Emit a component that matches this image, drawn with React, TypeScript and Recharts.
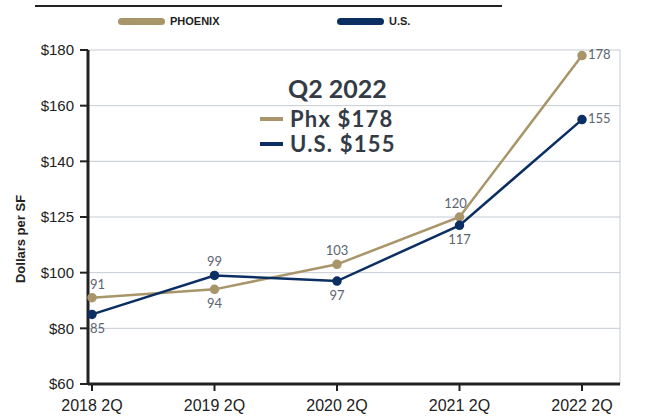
import { LineChart, Line, XAxis, YAxis, CartesianGrid, LabelList } from "recharts"

const quarters = ["2018 2Q", "2019 2Q", "2020 2Q", "2021 2Q", "2022 2Q"]
const phoenix = [91, 94, 103, 120, 178]
const us = [85, 99, 97, 117, 155]
const yTicks = [60, 80, 100, 120, 140, 160, 180]
const yTickLabels = ["$60", "$80", "$100", "$125", "$140", "$160", "$180"]

const PHX = "#a8956a"
const USC = "#0b2f63"

const series = [
  { key: "phoenix", name: "PHOENIX", short: "Phx", color: PHX, values: phoenix, other: us },
  { key: "us", name: "U.S.", short: "U.S.", color: USC, values: us, other: phoenix },
]

const data = quarters.map((q, i) => ({ quarter: q, phoenix: phoenix[i], us: us[i] }))

const makeLabel = (own: number[], other: number[]) => (props: any) => {
  const { x, y, index } = props
  const last = index === own.length - 1
  const above = own[index] > other[index]
  let tx = x
  let ty = above ? y - 9 : y + 19
  let anchor = "middle"
  if (last) {
    tx = x + 6
    ty = y + 3
    anchor = "start"
  } else if (index === 0) {
    tx = x - 2
    anchor = "start"
  } else if (index === 3 && above) {
    tx = x - 4
  }
  return (
    <text x={tx} y={ty} textAnchor={anchor} fontSize={13} fill="#5b6471" fontFamily="Lato">
      {own[index]}
    </text>
  )
}

const legendLeft = [118, 337]

export default function App() {
  return (
    <div style={{ position: "absolute", left: 0, top: 0, width: 646, height: 416, background: "#fff" }}>
      <LineChart width={646} height={416} data={data} margin={{ top: 50, right: 26, left: 8, bottom: 8 }}>
        <CartesianGrid vertical={true} verticalPoints={[620]} stroke="#c5cad2" strokeWidth={1} />
        <XAxis
          dataKey="quarter"
          padding={{ left: 4, right: 38 }}
          height={24}
          tick={{ fontSize: 16, fill: "#222", fontFamily: "Liberation Sans" }}
          tickSize={7}
          tickMargin={9}
          tickLine={{ stroke: "#222", strokeWidth: 2 }}
          axisLine={{ stroke: "#222", strokeWidth: 3 }}
          interval={0}
        />
        <YAxis
          width={80}
          domain={[60, 180]}
          ticks={yTicks}
          tickFormatter={(v: number, i: number) => yTickLabels[i] ?? String(v)}
          tick={{ fontSize: 15, fill: "#222", fontFamily: "Liberation Sans" }}
          tickSize={8}
          tickMargin={6}
          tickLine={{ stroke: "#222", strokeWidth: 2 }}
          axisLine={{ stroke: "#222", strokeWidth: 3 }}
          label={{ value: "Dollars per SF", angle: -90, position: "insideLeft", offset: 12, dy: 22, style: { fontSize: 13, fontWeight: "bold", fill: "#222", fontFamily: "Liberation Sans", textAnchor: "middle" } }}
        />
        {series.map((s) => (
          <Line key={s.key} dataKey={s.key} stroke={s.color} strokeWidth={2.5} dot={{ r: 3.5, fill: s.color, stroke: s.color }} isAnimationActive={false}>
            <LabelList dataKey={s.key} content={makeLabel(s.values, s.other)} />
          </Line>
        ))}
      </LineChart>
      <div style={{ position: "absolute", left: 35, top: 5, width: 467, height: 2, background: "#222" }} />
      {series.map((s, i) => (
        <div key={s.name} style={{ position: "absolute", left: legendLeft[i], top: 15, display: "flex", alignItems: "center" }}>
          <div style={{ width: 47, height: 7, borderRadius: 4, background: s.color }} />
          <span style={{ marginLeft: 5, fontSize: 11, fontWeight: "bold", fontFamily: "Liberation Sans", color: "#222", lineHeight: "12px" }}>{s.name}</span>
        </div>
      ))}
      <div style={{ position: "absolute", left: 288, top: 76, fontSize: 25, fontWeight: "bold", fontFamily: "Lato", color: "#333b46", lineHeight: "25px" }}>
        Q2 2022
      </div>
      {series.map((s, i) => (
        <div key={s.key} style={{ position: "absolute", left: 260, top: 108 + i * 25, display: "flex", alignItems: "center" }}>
          <div style={{ width: 23, height: 4, background: s.color }} />
          <span style={{ marginLeft: 7, fontSize: 22, fontWeight: "bold", fontFamily: "Lato", color: "#333b46", lineHeight: "21px", letterSpacing: 1.2 }}>
            {`${s.short} $${s.values[s.values.length - 1]}`}
          </span>
        </div>
      ))}
    </div>
  )
}
